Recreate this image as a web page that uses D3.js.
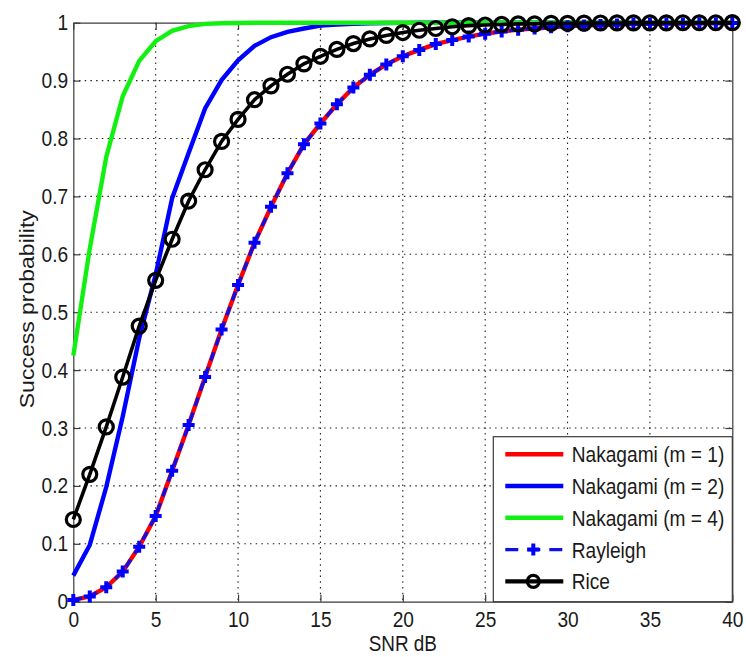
<!DOCTYPE html>
<html>
<head>
<meta charset="utf-8">
<script src="https://cdn.jsdelivr.net/npm/d3@7"></script>
<style>
  body { margin: 0; background: #fff; }
  text { font-family: 'Liberation Sans', Arial, sans-serif; fill: #1a1a1a; }
</style>
</head>
<body>
<svg id="chart" width="746" height="657"></svg>
<script>
  'use strict';

  // SNR values (dB)
  var snr = [0, 1, 2, 3, 4, 5, 6, 7, 8, 9, 10, 11, 12, 13, 14, 15, 16, 17, 18, 19, 20,
    21, 22, 23, 24, 25, 26, 27, 28, 29, 30, 31, 32, 33, 34, 35, 36, 37, 38, 39, 40];

  var nakagami1 = [0.003, 0.009, 0.025, 0.052, 0.095, 0.148, 0.226, 0.305, 0.388, 0.470, 0.547,
    0.620, 0.682, 0.740, 0.790, 0.826, 0.859, 0.888, 0.910, 0.928, 0.942,
    0.953, 0.963, 0.970, 0.976, 0.981, 0.985, 0.988, 0.990, 0.992, 0.994,
    0.995, 0.996, 0.997, 0.998, 0.998, 0.9985, 0.9988, 0.999, 0.9992, 0.9994];

  var nakagami2 = [0.045, 0.098, 0.198, 0.320, 0.455, 0.565, 0.697, 0.775, 0.852, 0.901, 0.935,
    0.960, 0.975, 0.984, 0.990, 0.995, 0.997, 0.998, 0.999, 0.9995, 0.9997,
    0.9998, 0.9999, 1, 1, 1, 1, 1, 1, 1, 1,
    1, 1, 1, 1, 1, 1, 1, 1, 1, 1];

  var nakagami4 = [0.425, 0.610, 0.768, 0.873, 0.934, 0.968, 0.986, 0.994, 0.998, 0.999, 0.9996,
    1, 1, 1, 1, 1, 1, 1, 1, 1, 1,
    1, 1, 1, 1, 1, 1, 1, 1, 1, 1,
    1, 1, 1, 1, 1, 1, 1, 1, 1, 1];

  var rayleigh = [0.003, 0.009, 0.025, 0.052, 0.095, 0.148, 0.226, 0.305, 0.388, 0.470, 0.547,
    0.620, 0.682, 0.740, 0.790, 0.826, 0.859, 0.888, 0.910, 0.928, 0.942,
    0.953, 0.963, 0.970, 0.976, 0.981, 0.985, 0.988, 0.990, 0.992, 0.994,
    0.995, 0.996, 0.997, 0.998, 0.998, 0.9985, 0.9988, 0.999, 0.9992, 0.9994];

  var rice = [0.142, 0.220, 0.302, 0.388, 0.476, 0.555, 0.626, 0.692, 0.746, 0.795, 0.833,
    0.867, 0.891, 0.911, 0.929, 0.942, 0.954, 0.964, 0.972, 0.978, 0.983,
    0.987, 0.990, 0.993, 0.995, 0.996, 0.997, 0.998, 0.998, 0.999, 0.999,
    0.9993, 0.9995, 0.9996, 0.9997, 0.9998, 0.9998, 0.9999, 0.9999, 0.9999, 1];

  var xTicks = [0, 5, 10, 15, 20, 25, 30, 35, 40];
  var yTicks = [0, 0.1, 0.2, 0.3, 0.4, 0.5, 0.6, 0.7, 0.8, 0.9, 1];

  var legendLabels = ['Nakagami (m = 1)', 'Nakagami (m = 2)', 'Nakagami (m = 4)', 'Rayleigh', 'Rice'];

  var margin = { left: 73.3, top: 22.7, right: 13.7, bottom: 55.3 };
  var width = 746 - margin.left - margin.right;
  var height = 657 - margin.top - margin.bottom;
  var squeeze = 'scale(0.87,1)';

  var svg = d3.select('#chart');
  var $g = svg.append('g')
    .attr('transform', 'translate(' + margin.left + ',' + margin.top + ')');

  var xScale = d3.scaleLinear().domain([0, 40]).range([0, width]);
  var yScale = d3.scaleLinear().domain([0, 1]).range([height, 0]);

  // dotted grid
  $g.append('g')
    .selectAll('line.gx')
    .data(xTicks.slice(1, -1))
    .enter()
    .append('line')
    .attr('class', 'gx')
    .attr('x1', function(d) { return xScale(d); })
    .attr('x2', function(d) { return xScale(d); })
    .attr('y1', 0)
    .attr('y2', height)
    .attr('stroke', '#222')
    .attr('stroke-width', 1.1)
    .attr('stroke-dasharray', '1.5,4.2');
  $g.append('g')
    .selectAll('line.gy')
    .data(yTicks.slice(1, -1))
    .enter()
    .append('line')
    .attr('class', 'gy')
    .attr('x1', 0)
    .attr('x2', width)
    .attr('y1', function(d) { return yScale(d); })
    .attr('y2', function(d) { return yScale(d); })
    .attr('stroke', '#222')
    .attr('stroke-width', 1.1)
    .attr('stroke-dasharray', '1.5,4.2');

  // axes with inward ticks (box on)
  var fmt = d3.format('~g');
  var $xAxis = $g.append('g')
    .attr('transform', 'translate(0,' + height + ')')
    .call(d3.axisBottom(xScale).tickValues(xTicks).tickFormat(fmt)
      .tickSizeInner(-7).tickSizeOuter(0).tickPadding(10));
  var $yAxis = $g.append('g')
    .call(d3.axisLeft(yScale).tickValues(yTicks).tickFormat(fmt)
      .tickSizeInner(-7).tickSizeOuter(0).tickPadding(6));
  $g.append('g')
    .attr('transform', 'translate(' + width + ',0)')
    .call(d3.axisRight(yScale).tickValues(yTicks).tickFormat('')
      .tickSizeInner(-7).tickSizeOuter(0));
  $g.append('g')
    .call(d3.axisTop(xScale).tickValues(xTicks).tickFormat('')
      .tickSizeInner(-7).tickSizeOuter(0));

  $g.selectAll('.domain, .tick line')
    .attr('stroke', '#3a3a3a')
    .attr('stroke-width', 1.2);
  [$xAxis, $yAxis].forEach(function($a) {
    $a.selectAll('text')
      .attr('font-size', 22)
      .attr('fill', '#1a1a1a')
      .attr('transform', squeeze);
  });

  // series
  var line = d3.line()
    .x(function(d, i) { return xScale(snr[i]); })
    .y(function(d) { return yScale(d); });

  var $plot = $g.append('g');
  $plot.append('path').datum(nakagami1)
    .attr('d', line).attr('fill', 'none')
    .attr('stroke', '#ff0000').attr('stroke-width', 4.4);
  $plot.append('path').datum(nakagami2)
    .attr('d', line).attr('fill', 'none')
    .attr('stroke', '#0000ff').attr('stroke-width', 4.4);
  $plot.append('path').datum(nakagami4)
    .attr('d', line).attr('fill', 'none')
    .attr('stroke', '#12f012').attr('stroke-width', 4.4);
  $plot.append('path').datum(rayleigh)
    .attr('d', line).attr('fill', 'none')
    .attr('stroke', '#1010e0').attr('stroke-width', 3.4)
    .attr('stroke-dasharray', '9,7');

  var plusPath = 'M-6,0H6M0,-6V6';
  $plot.selectAll('path.ray')
    .data(rayleigh)
    .enter()
    .append('path')
    .attr('class', 'ray')
    .attr('d', plusPath)
    .attr('transform', function(d, i) {
      return 'translate(' + xScale(snr[i]) + ',' + yScale(d) + ')';
    })
    .attr('stroke', '#0000ff')
    .attr('stroke-width', 4);

  $plot.append('path').datum(rice)
    .attr('d', line).attr('fill', 'none')
    .attr('stroke', '#000').attr('stroke-width', 3.6);
  $plot.selectAll('circle.rice')
    .data(rice)
    .enter()
    .append('circle')
    .attr('class', 'rice')
    .attr('cx', function(d, i) { return xScale(snr[i]); })
    .attr('cy', function(d) { return yScale(d); })
    .attr('r', 7)
    .attr('fill', 'none')
    .attr('stroke', '#000')
    .attr('stroke-width', 3.2);

  // legend (south-east)
  var legendStyle = [
    { color: '#ff0000', dash: null, marker: null },
    { color: '#0000ff', dash: null, marker: null },
    { color: '#12f012', dash: null, marker: null },
    { color: '#1010e0', dash: '13,9', marker: 'plus' },
    { color: '#000', dash: null, marker: 'circle' }
  ];
  var lgX = 493.3 - margin.left;
  var lgY = 436.7 - margin.top;
  var $legend = $g.append('g')
    .attr('transform', 'translate(' + lgX + ',' + lgY + ')');
  $legend.append('rect')
    .attr('x', 0).attr('y', 0)
    .attr('width', width - lgX)
    .attr('height', height - lgY)
    .attr('fill', '#fff')
    .attr('stroke', '#3a3a3a')
    .attr('stroke-width', 1.2);

  var $rows = $legend.selectAll('g.row')
    .data(legendLabels)
    .enter()
    .append('g')
    .attr('class', 'row')
    .attr('transform', function(d, i) { return 'translate(0,' + (17.5 + i * 31.8) + ')'; });
  $rows.append('line')
    .attr('x1', 12).attr('x2', 70)
    .attr('y1', 0).attr('y2', 0)
    .attr('stroke', function(d, i) { return legendStyle[i].color; })
    .attr('stroke-width', function(d, i) { return i === 3 ? 3.4 : 4.4; })
    .attr('stroke-dasharray', function(d, i) { return legendStyle[i].dash; });
  $rows.filter(function(d, i) { return legendStyle[i].marker === 'plus'; })
    .append('path')
    .attr('d', plusPath)
    .attr('transform', 'translate(40,0)')
    .attr('stroke', '#0000ff')
    .attr('stroke-width', 4);
  $rows.filter(function(d, i) { return legendStyle[i].marker === 'circle'; })
    .append('circle')
    .attr('cx', 40).attr('cy', 0).attr('r', 6)
    .attr('fill', 'none')
    .attr('stroke', '#000')
    .attr('stroke-width', 3.2);
  $rows.append('text')
    .attr('transform', 'translate(78.4,0) ' + squeeze)
    .attr('dy', '0.36em')
    .attr('font-size', 22)
    .text(function(d) { return d; });

  // axis titles
  svg.append('text')
    .attr('transform', 'translate(' + (margin.left + width / 2) + ',651) scale(0.86,1)')
    .attr('text-anchor', 'middle')
    .attr('font-size', 22)
    .text('SNR dB');
  svg.append('text')
    .attr('transform', 'translate(34,' + (margin.top + height / 2 - 3) + ') rotate(-90) scale(1,0.88)')
    .attr('text-anchor', 'middle')
    .attr('font-size', 23)
    .text('Success probability');
</script>
</body>
</html>
